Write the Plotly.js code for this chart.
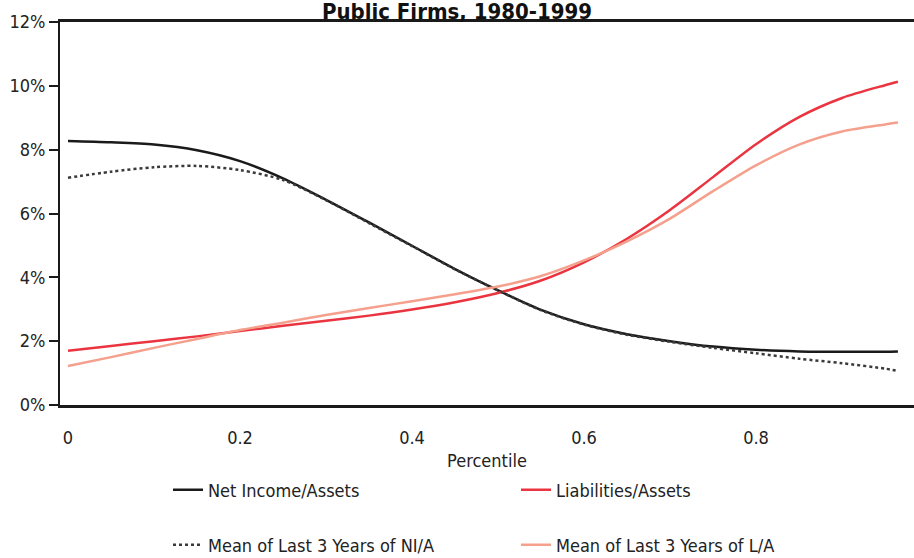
<!DOCTYPE html>
<html>
<head>
<meta charset="utf-8">
<script src="https://cdn.plot.ly/plotly-3.0.1.min.js"></script>
<style>html,body{margin:0;padding:0;background:#fff;}#chart{width:914px;height:558px;}</style>
</head>
<body>
<div id="chart"></div>
<script>
const percentile = [0, 0.05, 0.1, 0.15, 0.2, 0.25, 0.3, 0.35, 0.4, 0.45, 0.5, 0.55, 0.6, 0.65, 0.7, 0.75, 0.8, 0.85, 0.9, 0.95, 0.965];
const netIncomeAssets = [8.27, 8.23, 8.16, 7.98, 7.64, 7.10, 6.43, 5.72, 4.99, 4.26, 3.59, 2.98, 2.53, 2.22, 2.0, 1.83, 1.73, 1.68, 1.67, 1.67, 1.68];
const meanNIA = [7.12, 7.31, 7.45, 7.49, 7.36, 7.05, 6.42, 5.70, 4.98, 4.25, 3.59, 2.97, 2.52, 2.2, 1.98, 1.79, 1.62, 1.45, 1.31, 1.14, 1.07];
const liabilitiesAssets = [1.70, 1.85, 2.0, 2.15, 2.32, 2.48, 2.64, 2.80, 2.99, 3.22, 3.51, 3.90, 4.47, 5.21, 6.11, 7.14, 8.17, 9.02, 9.62, 10.02, 10.13];
const meanLA = [1.22, 1.50, 1.79, 2.07, 2.35, 2.58, 2.82, 3.04, 3.25, 3.47, 3.71, 4.04, 4.53, 5.13, 5.84, 6.70, 7.51, 8.16, 8.57, 8.79, 8.85];
const xTickVals = [0, 0.2, 0.4, 0.6, 0.8];
const xTickText = ['0', '0.2', '0.4', '0.6', '0.8'];
const yTickVals = [0, 2, 4, 6, 8, 10, 12];
const yTickText = ['0%', '2%', '4%', '6%', '8%', '10%', '12%'];

const FONT = '"Liberation Sans Narrow", "DejaVu Sans Condensed", "Arial Narrow", sans-serif';

const traces = [
  {x: percentile, y: netIncomeAssets, name: 'Net Income/Assets', mode: 'lines', line: {color: '#1a1a1a', width: 2.5, shape: 'spline', smoothing: 0.8}, legend: 'legend'},
  {x: percentile, y: liabilitiesAssets, name: 'Liabilities/Assets', mode: 'lines', line: {color: '#ea3540', width: 2.5, shape: 'spline', smoothing: 0.8}, legend: 'legend'},
  {x: percentile, y: meanNIA, name: 'Mean of Last 3 Years of NI/A', mode: 'lines', line: {color: '#3a3a3a', width: 2.5, dash: 'dot', shape: 'spline', smoothing: 0.8}, legend: 'legend2'},
  {x: percentile, y: meanLA, name: 'Mean of Last 3 Years of L/A', mode: 'lines', line: {color: '#f5a08d', width: 2.5, shape: 'spline', smoothing: 0.8}, legend: 'legend2'}
];

const legendCommon = {
  orientation: 'h', xref: 'container', yref: 'container', xanchor: 'left', yanchor: 'middle',
  font: {family: FONT, size: 18, color: '#222'}, entrywidth: 303, entrywidthmode: 'pixels',
  itemwidth: 30, bgcolor: 'rgba(0,0,0,0)', borderwidth: 0
};

const layout = {
  width: 914, height: 558,
  margin: {l: 60, r: 0, t: 22, b: 153},
  paper_bgcolor: '#fff', plot_bgcolor: '#fff',
  font: {family: FONT, size: 18, color: '#222'},
  title: {text: '<b>Public Firms, 1980-1999</b>', font: {family: FONT, size: 22, color: '#111'},
          x: 0.5, xref: 'container', xanchor: 'center', y: 1 - 11/558, yref: 'container', yanchor: 'middle'},
  xaxis: {
    range: [-0.0093, 0.9837], showgrid: false, zeroline: false,
    showline: true, linecolor: '#1a1a1a', linewidth: 3, mirror: true,
    tickvals: xTickVals, ticktext: xTickText, ticks: 'outside', ticklen: 14, tickcolor: 'rgba(0,0,0,0)',
    tickfont: {family: FONT, size: 18, color: '#222'},
    title: {text: 'Percentile', font: {family: FONT, size: 18, color: '#222'}, standoff: 12}
  },
  yaxis: {
    range: [0, 12], showgrid: false, zeroline: false,
    showline: true, linecolor: '#1a1a1a', linewidth: 2,
    tickvals: yTickVals, ticktext: yTickText, ticks: 'outside', ticklen: 9, tickwidth: 2, tickcolor: '#1a1a1a',
    tickfont: {family: FONT, size: 18, color: '#222'}
  },
  yaxis2: {
    range: [0, 12], overlaying: 'y', side: 'left', showgrid: false, zeroline: false, showline: false,
    tickvals: yTickVals, ticks: 'inside', ticklen: 9, tickwidth: 2, tickcolor: '#1a1a1a', showticklabels: false
  },
  legend: Object.assign({}, legendCommon, {x: 168/914, y: 1 - 490/558}),
  legend2: Object.assign({}, legendCommon, {x: 168/914, y: 1 - 545/558}),
  showlegend: true
};

Plotly.newPlot('chart', traces, layout, {displayModeBar: false, staticPlot: true});
</script>
</body>
</html>
